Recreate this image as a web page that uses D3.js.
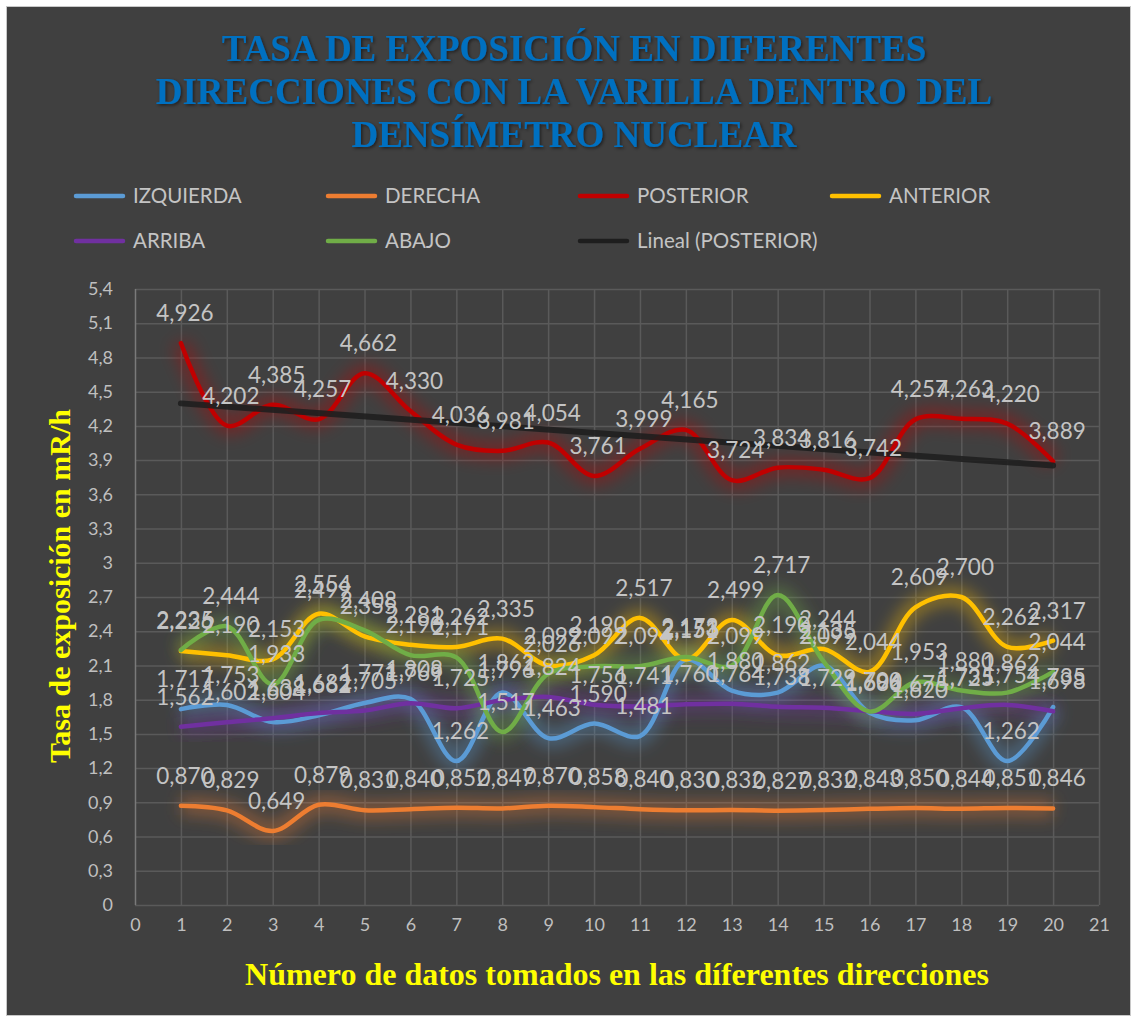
<!DOCTYPE html>
<html><head><meta charset="utf-8">
<script src="https://cdn.jsdelivr.net/npm/d3@7"></script>
<style>html,body{margin:0;padding:0;background:#fff;}</style>
</head><body>
<svg id="c" width="1136" height="1021"></svg>
<script>
// ---------- DATA ----------
const xValues = [1,2,3,4,5,6,7,8,9,10,11,12,13,14,15,16,17,18,19,20];
const izquierda = [1.717,1.753,1.604,1.662,1.771,1.808,1.262,1.862,1.463,1.590,1.481,2.151,1.880,1.862,2.099,1.686,1.620,1.735,1.262,1.735];
const derecha   = [0.870,0.829,0.649,0.879,0.831,0.840,0.852,0.847,0.870,0.858,0.840,0.830,0.832,0.827,0.832,0.843,0.850,0.844,0.851,0.846];
const posterior = [4.926,4.202,4.385,4.257,4.662,4.330,4.036,3.981,4.054,3.761,3.999,4.165,3.724,3.834,3.816,3.742,4.257,4.263,4.220,3.889];
const anterior  = [2.226,2.190,2.153,2.554,2.355,2.281,2.262,2.335,2.099,2.190,2.517,2.153,2.499,2.190,2.244,2.044,2.609,2.700,2.262,2.317];
const arriba    = [1.562,1.602,1.638,1.682,1.705,1.769,1.725,1.796,1.824,1.756,1.741,1.760,1.764,1.738,1.729,1.700,1.675,1.725,1.754,1.698];
const abajo     = [2.235,2.444,1.933,2.499,2.408,2.190,2.171,1.517,2.026,2.092,2.094,2.173,2.099,2.717,2.135,1.696,1.953,1.880,1.862,2.044];
const seriesNames = ["IZQUIERDA","DERECHA","POSTERIOR","ANTERIOR","ARRIBA","ABAJO"];
const trendName = "Lineal (POSTERIOR)";
const yTicks = [0,0.3,0.6,0.9,1.2,1.5,1.8,2.1,2.4,2.7,3,3.3,3.6,3.9,4.2,4.5,4.8,5.1,5.4];
const xTicks = d3.range(0,22);
const titleLines = ["TASA DE EXPOSICIÓN EN DIFERENTES","DIRECCIONES CON LA VARILLA DENTRO DEL","DENSÍMETRO NUCLEAR"];
const yTitle = "Tasa de exposición en mR/h";
const xTitle = "Número de datos tomados en las díferentes direcciones";

// ---------- STYLE ----------
const colors = ["#5B9BD5","#ED7D31","#C00000","#FFC000","#7030A0","#70AD47"];
const trendColor = "#1e1e1e";
const values = [izquierda, derecha, posterior, anterior, arriba, abajo];

const svg = d3.select("#c");
const fmt = v => d3.format(".3f")(v).replace(".", ",");
const fmtTick = v => String(+v.toFixed(1)).replace(".", ",");

svg.append("rect").attr("x",6.5).attr("y",6.5).attr("width",1124).attr("height",1009)
  .attr("fill","#404040").attr("stroke","#c8c8c8").attr("stroke-width",1);

const defs = svg.append("defs");
const glow = defs.append("filter").attr("id","glow").attr("x","-10%").attr("y","-50%").attr("width","120%").attr("height","200%");
glow.append("feGaussianBlur").attr("stdDeviation",8);
const tsh = defs.append("filter").attr("id","tshadow");
tsh.append("feDropShadow").attr("dx",1.5).attr("dy",1.5).attr("stdDeviation",1.5).attr("flood-color","#000").attr("flood-opacity",0.5);

const x = d3.scaleLinear().domain([0,21]).range([135,1099]);
const y = d3.scaleLinear().domain([0,5.4]).range([905,289]);

const g = svg.append("g");
g.selectAll("line.h").data(yTicks).join("line")
  .attr("x1",x(0)).attr("x2",x(21)).attr("y1",d=>y(d)+0.5).attr("y2",d=>y(d)+0.5)
  .attr("stroke","#5a5a5a").attr("stroke-width",1.5);
g.selectAll("line.v").data(xTicks).join("line")
  .attr("x1",d=>x(d)+0.5).attr("x2",d=>x(d)+0.5).attr("y1",y(5.4)).attr("y2",y(0))
  .attr("stroke",d=>d===0?"#7a7a7a":"#5a5a5a").attr("stroke-width",1.5);

const yAxis = svg.append("g").attr("transform",`translate(${x(0)},0)`)
  .call(d3.axisLeft(y).tickValues(yTicks).tickFormat(fmtTick).tickSize(0).tickPadding(22));
const xAxis = svg.append("g").attr("transform",`translate(0,${y(0)})`)
  .call(d3.axisBottom(x).tickValues(xTicks).tickFormat(d=>String(d)).tickSize(0).tickPadding(13));
[yAxis,xAxis].forEach(a=>{
  a.select(".domain").remove();
  a.selectAll("text").attr("fill","#bfbfbf").attr("font-family","Lato, 'Open Sans', sans-serif").attr("font-size",18);
});

const line = d3.line().x((d,i)=>x(xValues[i])).y(d=>y(d)).curve(d3.curveCatmullRom.alpha(0.5));

const gg = svg.append("g");
values.forEach((vals,k)=>{
  gg.append("path").attr("d",line(vals)).attr("fill","none").attr("stroke",colors[k])
    .attr("stroke-width",18).attr("stroke-opacity",0.38).attr("filter","url(#glow)");
});
const lg = svg.append("g");
values.forEach((vals,k)=>{
  lg.append("path").attr("d",line(vals)).attr("fill","none").attr("stroke",colors[k])
    .attr("stroke-width",4.5).attr("stroke-linecap","round").attr("stroke-linejoin","round");
});

// linear trend of POSTERIOR (least squares)
const mx = d3.mean(xValues), my = d3.mean(posterior);
const slope = d3.sum(xValues,(xv,i)=>(xv-mx)*(posterior[i]-my)) / d3.sum(xValues,xv=>(xv-mx)*(xv-mx));
const icpt = my - slope*mx;
const xEnds = [xValues[0], xValues[xValues.length-1]];
svg.append("line")
  .attr("x1",x(xEnds[0])).attr("y1",y(icpt+slope*xEnds[0]))
  .attr("x2",x(xEnds[1])).attr("y2",y(icpt+slope*xEnds[1]))
  .attr("stroke",trendColor).attr("stroke-width",6).attr("stroke-opacity",0.88).attr("stroke-linecap","round");

const lab = svg.append("g").attr("font-family","Lato, 'Open Sans', sans-serif").attr("font-size",22.5).attr("fill","#c4c4c4").attr("text-anchor","middle");
values.forEach((vals)=>{
  vals.forEach((v,i)=>{
    lab.append("text").attr("x",x(xValues[i])+4).attr("y",y(v)-22).text(fmt(v));
  });
});

const legItems = seriesNames.map((n,i)=>({name:n,color:colors[i]})).concat([{name:trendName,color:trendColor}]);
const leg = svg.append("g");
legItems.forEach((it,i)=>{
  const col = i%4, row = Math.floor(i/4);
  const lx = 76 + col*252, ly = 196 + row*45;
  leg.append("line").attr("x1",lx).attr("x2",lx+47).attr("y1",ly).attr("y2",ly)
    .attr("stroke",it.color).attr("stroke-width",4.5).attr("stroke-linecap","round");
  leg.append("text").attr("x",lx+57).attr("y",ly).attr("dy","0.36em")
    .attr("font-family","Lato, 'Open Sans', sans-serif").attr("font-size",20.5).attr("fill","#c4c4c4").text(it.name);
});

const t = svg.append("g").attr("font-family","'Liberation Serif', 'Times New Roman', serif").attr("font-weight","bold")
  .attr("font-size",37).attr("fill","#0070C0").attr("text-anchor","middle").attr("filter","url(#tshadow)");
titleLines.forEach((s,i)=>{
  t.append("text").attr("x",574).attr("y",61+i*43).text(s);
});

svg.append("text").attr("transform",`translate(70,${586}) rotate(-90)`).attr("text-anchor","middle")
  .attr("font-family","'Liberation Serif', 'Times New Roman', serif").attr("font-weight","bold")
  .attr("font-size",30).attr("fill","#FFFF00").text(yTitle);
svg.append("text").attr("x",617).attr("y",985).attr("text-anchor","middle")
  .attr("font-family","'Liberation Serif', 'Times New Roman', serif").attr("font-weight","bold")
  .attr("font-size",32).attr("fill","#FFFF00").text(xTitle);
</script>
</body></html>
